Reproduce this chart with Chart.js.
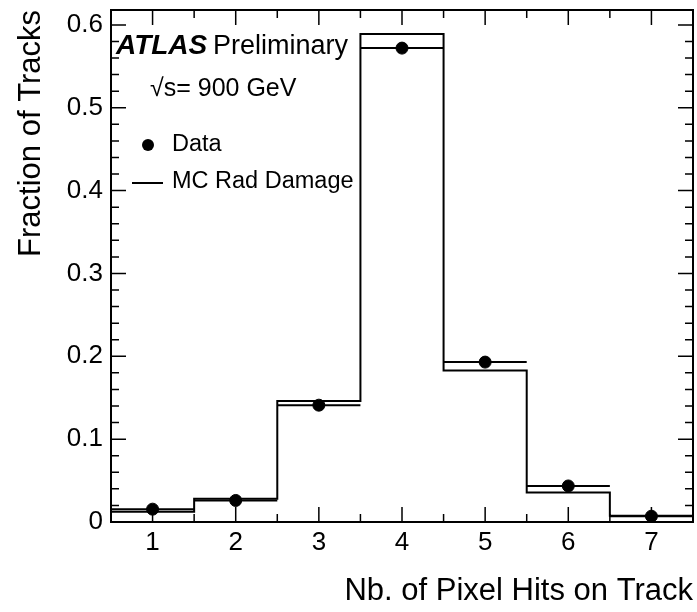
<!DOCTYPE html>
<html>
<head>
<meta charset="utf-8">
<script src="https://cdn.jsdelivr.net/npm/chart.js@4.4.1/dist/chart.umd.min.js"></script>
<style>
  html, body { margin: 0; padding: 0; background: #fff; }
  #wrap { width: 697px; height: 612px; position: relative; }
</style>
</head>
<body>
<div id="wrap"><canvas id="c"></canvas></div>
<script>
// ---- data ----
const bins = [1, 2, 3, 4, 5, 6, 7];
const mcRadDamage = [0.0125, 0.028, 0.146, 0.589, 0.183, 0.0355, 0.0075];
const dataFraction = [0.0155, 0.026, 0.141, 0.572, 0.193, 0.0435, 0.0070];
const xTickLabels = ['1', '2', '3', '4', '5', '6', '7'];
const yTickValues = [0, 0.1, 0.2, 0.3, 0.4, 0.5, 0.6];
const yTickLabels = ['0', '0.1', '0.2', '0.3', '0.4', '0.5', '0.6'];
const legendLabels = ['Data', 'MC Rad Damage'];
const xTitle = 'Nb. of Pixel Hits on Track';
const yTitle = 'Fraction of Tracks';

const FONT = '"Liberation Sans", Arial, Helvetica, sans-serif';
const binHalf = 0.5;

// step outline built from bin edges
const mcSteps = bins.map((b, i) => ({ x: b - binHalf, y: mcRadDamage[i] }));
mcSteps.push({ x: bins[bins.length - 1] + binHalf, y: mcRadDamage[mcRadDamage.length - 1] });
const dataPts = bins.map((b, i) => ({ x: b, y: dataFraction[i] }));

function zeroPad(s) {
  s.paddingLeft = 0; s.paddingRight = 0; s.paddingTop = 0; s.paddingBottom = 0;
}

const atlasPlugin = {
  id: 'atlasDecor',
  beforeDatasetsDraw(chart) {
    const { ctx, scales: { x, y } } = chart;
    const ds = chart.data.datasets[1];
    ctx.save();
    ctx.strokeStyle = '#000';
    ctx.lineWidth = 2;
    ds.data.forEach(p => {
      const py = y.getPixelForValue(p.y);
      ctx.beginPath();
      ctx.moveTo(x.getPixelForValue(p.x - binHalf), py);
      ctx.lineTo(x.getPixelForValue(p.x + binHalf), py);
      ctx.stroke();
    });
    ctx.restore();
  },
  afterDraw(chart) {
    const { ctx, chartArea: a, scales: { x, y } } = chart;
    ctx.save();
    ctx.strokeStyle = '#000';
    // ticks
    ctx.lineWidth = 1.5;
    ctx.beginPath();
    for (let v = 0.5; v <= 7.5001; v += 0.5) {
      const px = x.getPixelForValue(v);
      const major = Math.abs(v - Math.round(v)) < 1e-6;
      const len = major ? 15 : 8;
      ctx.moveTo(px, a.bottom); ctx.lineTo(px, a.bottom - len);
      ctx.moveTo(px, a.top); ctx.lineTo(px, a.top + len);
    }
    for (let k = 0; k <= 30; k++) {
      const v = k * 0.02;
      if (v > y.max) break;
      const py = y.getPixelForValue(v);
      const len = (k % 5 === 0) ? 15 : 8;
      ctx.moveTo(a.left, py); ctx.lineTo(a.left + len, py);
      ctx.moveTo(a.right, py); ctx.lineTo(a.right - len, py);
    }
    ctx.stroke();
    // frame
    ctx.lineWidth = 2;
    ctx.strokeRect(a.left, a.top, a.right - a.left, a.bottom - a.top);

    // ATLAS label
    ctx.fillStyle = '#000';
    ctx.textBaseline = 'alphabetic';
    ctx.textAlign = 'left';
    ctx.font = 'italic bold 28px ' + FONT;
    ctx.fillText('ATLAS', 116, 54);
    ctx.font = '27px ' + FONT;
    ctx.fillText('Preliminary', 213, 54);
    ctx.font = '25px ' + FONT;
    ctx.fillText('\u221As= 900 GeV', 150, 96);

    // legend
    ctx.beginPath();
    ctx.arc(148, 145, 6, 0, Math.PI * 2);
    ctx.fill();
    ctx.font = '23.5px ' + FONT;
    ctx.fillText(legendLabels[0], 172, 151);
    ctx.lineWidth = 2;
    ctx.beginPath();
    ctx.moveTo(132, 183); ctx.lineTo(163, 183);
    ctx.stroke();
    ctx.fillText(legendLabels[1], 172, 188);
    ctx.restore();
  }
};

new Chart(document.getElementById('c'), {
  type: 'scatter',
  data: {
    datasets: [
      {
        type: 'line',
        label: legendLabels[1],
        data: mcSteps,
        stepped: 'before',
        borderColor: '#000',
        borderWidth: 2,
        pointRadius: 0,
        fill: false,
        order: 2
      },
      {
        type: 'scatter',
        label: legendLabels[0],
        data: dataPts,
        pointRadius: 6,
        pointHoverRadius: 6,
        backgroundColor: '#000',
        borderColor: '#000',
        order: 1
      }
    ]
  },
  options: {
    responsive: true,
    maintainAspectRatio: false,
    animation: false,
    events: [],
    layout: { autoPadding: false, padding: { top: 10, right: 4, left: 0, bottom: 0 } },
    plugins: { legend: { display: false }, tooltip: { enabled: false } },
    scales: {
      x: {
        type: 'linear',
        min: 0.5,
        max: 7.5,
        afterBuildTicks: s => { s.ticks = bins.map(v => ({ value: v })); },
        afterFit: s => { s.height = 90; zeroPad(s); },
        grid: { display: false, drawTicks: false },
        border: { display: false },
        ticks: {
          padding: 5,
          color: '#000',
          font: { family: FONT, size: 26 },
          maxRotation: 0,
          callback: (v) => xTickLabels[bins.indexOf(v)]
        },
        title: {
          display: true,
          text: xTitle,
          align: 'end',
          color: '#000',
          font: { family: FONT, size: 31 },
          padding: { top: 4, bottom: 2 }
        }
      },
      y: {
        type: 'linear',
        min: 0,
        max: 0.618,
        afterBuildTicks: s => { s.ticks = yTickValues.map(v => ({ value: v })); },
        afterFit: s => { s.width = 111; zeroPad(s); },
        grid: { display: false, drawTicks: false },
        border: { display: false },
        ticks: {
          padding: 8,
          color: '#000',
          font: { family: FONT, size: 26 },
          callback: (v) => yTickLabels[yTickValues.indexOf(v)]
        },
        title: {
          display: true,
          text: yTitle,
          align: 'end',
          color: '#000',
          font: { family: FONT, size: 31 },
          padding: { top: 13, bottom: 4 }
        }
      }
    }
  },
  plugins: [atlasPlugin]
});
</script>
</body>
</html>
